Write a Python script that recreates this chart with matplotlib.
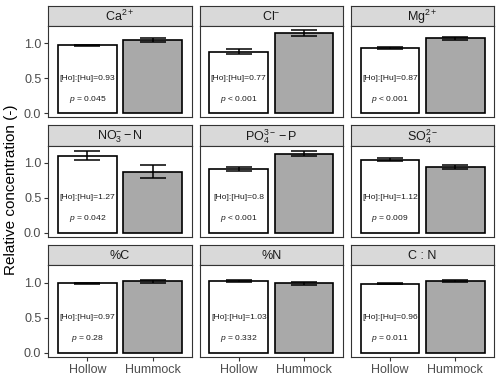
import matplotlib
matplotlib.use("Agg")
import matplotlib.pyplot as plt
import numpy as np

plt.rcParams['font.family'] = ['Liberation Sans', 'DejaVu Sans']
plt.rcParams['mathtext.fontset'] = 'custom'
plt.rcParams['mathtext.rm'] = 'Liberation Sans'
plt.rcParams['mathtext.it'] = 'Liberation Sans:italic'
plt.rcParams['mathtext.bf'] = 'Liberation Sans:bold'

# ---- data ----
panels = [r"Ca$^{2+}$", r"Cl$^{-}$", r"Mg$^{2+}$",
          r"NO$_3^{-}-$N", r"PO$_4^{3-}-$P", r"SO$_4^{2-}$",
          "%C", "%N", "C : N"]
groups = ["Hollow", "Hummock"]
hollow_mean = [0.97, 0.88, 0.935, 1.10, 0.91, 1.045, 0.99, 1.02, 0.98]
hollow_se = [0.01, 0.037, 0.015, 0.065, 0.03, 0.02, 0.01, 0.012, 0.006]
hummock_mean = [1.04, 1.14, 1.07, 0.87, 1.13, 0.94, 1.02, 0.99, 1.02]
hummock_se = [0.028, 0.045, 0.022, 0.092, 0.035, 0.03, 0.02, 0.02, 0.01]
ratio_labels = ["0.93", "0.77", "0.87", "1.27", "0.8", "1.12", "0.97", "1.03", "0.96"]
p_labels = ["= 0.045", "< 0.001", "< 0.001", "= 0.042", "< 0.001", "= 0.009",
            "= 0.28", "= 0.332", "= 0.011"]
y_ticks = [0.0, 0.5, 1.0]

W, H = 500, 379
fig = plt.figure(figsize=(W / 100, H / 100), dpi=100)

ymax = max(max(np.add(hollow_mean, hollow_se)), max(np.add(hummock_mean, hummock_se)))
pad = 0.05 * ymax
ylim = (-pad, ymax + pad)

left0, colstep, pw = 48.3, 151.3, 143.4
top0, rowstep, sh, bh = 5.7, 119.7, 20.3, 91.3
border = '#333333'

for i, name in enumerate(panels):
    r, c = divmod(i, 3)
    x0 = left0 + c * colstep
    st = top0 + r * rowstep
    # strip
    sax = fig.add_axes([x0 / W, 1 - (st + sh) / H, pw / W, sh / H])
    sax.set_facecolor('#D9D9D9')
    sax.set_xticks([]); sax.set_yticks([])
    for s in sax.spines.values():
        s.set_color(border); s.set_linewidth(0.8)
    sax.text(0.5, 0.45, name, ha='center', va='center', fontsize=9,
             color='#1A1A1A', transform=sax.transAxes)
    # body
    ax = fig.add_axes([x0 / W, 1 - (st + sh + bh) / H, pw / W, bh / H])
    means = [hollow_mean[i], hummock_mean[i]]
    ses = [hollow_se[i], hummock_se[i]]
    xs = np.arange(len(groups))
    ax.bar(xs, means, width=0.9, color=['white', '#A9A9A9'],
           edgecolor='black', linewidth=1.2, zorder=2)
    ax.errorbar(xs, means, yerr=ses, fmt='none', ecolor='black',
                elinewidth=1.1, capsize=9.5, capthick=1.1, zorder=3)
    ax.text(0, 0.5, "[Ho]:[Hu]=" + ratio_labels[i], ha='center', va='center',
            fontsize=6.1, color='#1A1A1A', zorder=4)
    ax.text(0, 0.2, r"$\it{p}$" + " " + p_labels[i], ha='center', va='center',
            fontsize=6.1, color='#1A1A1A', zorder=4)
    ax.set_xlim(-0.6, 1.6)
    ax.set_ylim(*ylim)
    ax.set_xticks(xs)
    ax.set_yticks(y_ticks)
    for s in ax.spines.values():
        s.set_color(border); s.set_linewidth(0.8)
    ax.tick_params(axis='both', colors=border, length=3, width=0.8,
                   labelcolor='#4D4D4D', labelsize=9, pad=2)
    if r == 2:
        ax.set_xticklabels(groups)
    else:
        ax.set_xticklabels([])
        ax.tick_params(axis='x', length=0)
    if c == 0:
        ax.set_yticklabels([f"{t:.1f}" for t in y_ticks])
    else:
        ax.set_yticklabels([])
        ax.tick_params(axis='y', length=0)

fig.text(11 / W, 0.5, "Relative concentration (-)", rotation=90,
         ha='center', va='center', fontsize=11, color='black')

fig.savefig("out.png", dpi=100)
